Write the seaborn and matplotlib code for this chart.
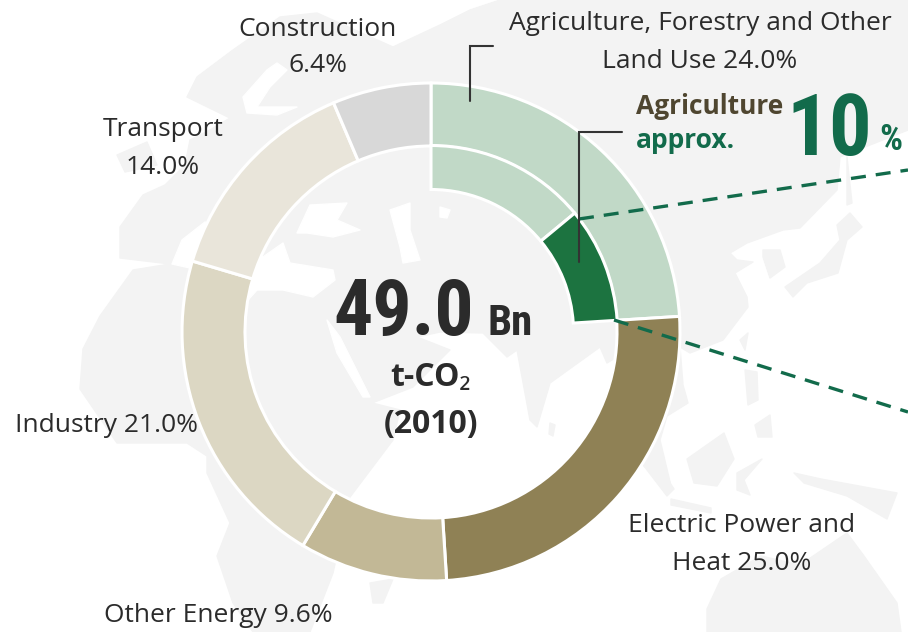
import matplotlib
matplotlib.use("Agg")
import matplotlib.pyplot as plt
from matplotlib.patches import Polygon
import seaborn as sns

# ---- data ----
sectors = ["Agriculture, Forestry and Other Land Use", "Electric Power and Heat", "Other Energy",
           "Industry", "Transport", "Construction"]
shares = [24.0, 25.0, 9.6, 21.0, 14.0, 6.4]
sector_colors = ["#c1d9c7", "#8f8155", "#c2b896", "#dcd7c3", "#e9e5da", "#d8d8d8"]
afolu_parts = ["Forestry and Other Land Use", "Agriculture"]
afolu_shares = [14.0, 10.0]
afolu_colors = ["#c1d9c7", "#1c7340"]
rest_of_circle = [76.0]

W, H = 908, 632
sns.set_theme(style="white")
narrow = "Roboto Condensed"
plt.rcParams["font.family"] = ["Open Sans", "Noto Sans", "DejaVu Sans"]

fig = plt.figure(figsize=(W / 100, H / 100), dpi=100, facecolor="white")
ax = fig.add_axes([0, 0, 1, 1])

def Y(y):
    return H - y

# ---- faint world map backdrop (decoration) ----
LAND = "#f3f3f3"
land = [
    [(120,227),(143,195),(165,185),(185,165),(190,140),(210,130),(230,118),(187,97),(197,77),(233,50),(280,17),(317,13),
     (393,47),(440,25),(470,10),(500,0),(908,0),(908,130),(870,145),(840,157),(837,190),(800,228),(783,230),(747,243),
     (730,253),(737,260),(753,262),(735,273),(747,297),(748,307),(723,340),(690,353),(680,347),(683,385),(688,403),
     (667,416),(660,440),(671,486),(644,466),(625,420),(617,357),(607,363),(600,347),(550,383),(537,427),(530,420),
     (517,350),(507,357),(483,333),(440,332),(417,337),(450,350),(413,387),(372,403),(400,410),(393,440),(350,497),
     (333,573),(310,632),(253,632),(233,603),(217,556),(230,523),(207,473),(207,456),(187,443),(117,443),(80,389),
     (83,349),(100,316),(133,270),(170,264),(120,258)],
    [(763,250),(780,250),(785,267),(770,278),(763,257)],
    [(847,157),(852,203),(847,205)],
    [(785,287),(820,263),(840,240),(837,225),(850,213),(862,227),(847,240),(838,273),(807,283),(793,297)],
    [(740,340),(748,333),(745,350)],
    [(745,370),(757,372),(758,400),(748,405)],
    [(755,425),(770,415),(772,437),(758,437)],
    [(707,632),(707,609),(721,579),(761,556),(800,565),(847,533),(864,556),(897,603),(901,632)],
    [(794,473),(821,479),(897,493),(887,519),(847,496),(804,483)],
    [(687,459),(724,433),(734,459),(717,486),(694,483)],
    [(644,466),(654,459),(674,489),(667,496)],
    [(671,499),(711,508),(711,513),(671,505)],
    [(737,473),(762,459),(744,480),(750,495),(737,490)],
    [(550,423),(555,425),(553,436),(549,434)],
    [(370,583),(393,579),(383,603),(373,603)],
    [(117,155),(147,142),(157,165),(125,172)],
]
seas = [
    [(172,264),(182,240),(205,222),(250,245),(263,257),(283,243),(290,263),(333,270),(335,280),(313,297),(283,290),
     (257,290),(248,300),(190,268)],
    [(297,233),(310,205),(347,203),(337,220),(360,230),(333,237),(307,233)],
    [(390,210),(410,203),(410,230),(420,260),(403,263),(400,247)],
    [(440,207),(450,210),(447,218),(440,217)],
    [(327,320),(340,337),(370,397),(363,397),(337,353)],
    [(243,97),(267,70),(277,63),(287,70),(270,87),(257,107),(297,107),(277,115),(247,113)],
]
for pts in land:
    ax.add_patch(Polygon([(x, Y(y)) for x, y in pts], closed=True, fc=LAND, ec=LAND, lw=1, joinstyle="round", zorder=0))
for pts in seas:
    ax.add_patch(Polygon([(x, Y(y)) for x, y in pts], closed=True, fc="white", ec="white", lw=1, joinstyle="round", zorder=0.5))

# ---- rings ----
cx, cy = 431, Y(332)
ax.pie(shares, colors=sns.color_palette(sector_colors), radius=249, center=(cx, cy), startangle=90, counterclock=False,
       normalize=True, wedgeprops=dict(width=63, edgecolor="white", linewidth=2.2))
inner_vals = afolu_shares + rest_of_circle
wedges, _ = ax.pie(inner_vals, colors=sns.color_palette(afolu_colors) + [(1, 1, 1)], radius=186.5, center=(cx, cy),
                   startangle=90, counterclock=False, normalize=True,
                   wedgeprops=dict(width=44, edgecolor="white", linewidth=2.2))
wedges[-1].set_visible(False)

ax.set_xlim(0, W)
ax.set_ylim(0, H)
ax.set_aspect("equal")
ax.set_axis_off()

# ---- connectors ----
DARK = "#2b2b2b"
TEAL = "#126b4b"
dash = (0, (4.5, 3.0))
ax.plot([579, 908], [Y(219), Y(170)], color=TEAL, lw=2.4, linestyle=dash, zorder=6)
ax.plot([614, 908], [Y(320), Y(412)], color=TEAL, lw=2.4, linestyle=dash, zorder=6)
ax.plot([469.5, 469.5, 493], [Y(101), Y(45.5), Y(45.5)], color="#333333", lw=1.5, zorder=7, solid_joinstyle="miter")
ax.plot([579, 579, 622], [Y(262), Y(131.5), Y(131.5)], color="#333333", lw=1.5, zorder=7, solid_joinstyle="miter")

# ---- labels ----
def label(x, y, s, ha="center", size=19, color=DARK, weight="normal", family=None, va="center"):
    kw = {"family": family} if family else {}
    ax.text(x, Y(y), s, ha=ha, va=va, fontsize=size, color=color, fontweight=weight, zorder=8, **kw)

label(318, 29, "Construction")
label(318, 66, "6.4%")
label(163, 130, "Transport")
label(163, 167, "14.0%")
label(700, 24, "Agriculture, Forestry and Other")
label(700, 61, "Land Use 24.0%")
label(15, 425, "Industry 21.0%", ha="left")
label(218, 616, "Other Energy 9.6%")
label(742, 525, "Electric Power and")
label(742, 563, "Heat 25.0%")

label(636, 107, "Agriculture", ha="left", size=19, color="#4f4630", weight="bold")
label(636, 141, "approx.", ha="left", size=19, color=TEAL, weight="bold")
label(872, 155, "10", ha="right", size=61, color=TEAL, weight="bold", family=narrow, va="baseline")
label(879, 150, "%", ha="left", size=26, color=TEAL, weight="bold", family=narrow, va="baseline")

label(474, 335, "49.0", ha="right", size=56, color=DARK, weight="bold", family=narrow, va="baseline")
label(488, 335, "Bn", ha="left", size=31, color=DARK, weight="bold", family=narrow, va="baseline")
label(431, 377, "t-CO₂", size=23, weight="bold")
label(431, 424, "(2010)", size=23, weight="bold")

fig.savefig("out.png", dpi=100, facecolor="white")
